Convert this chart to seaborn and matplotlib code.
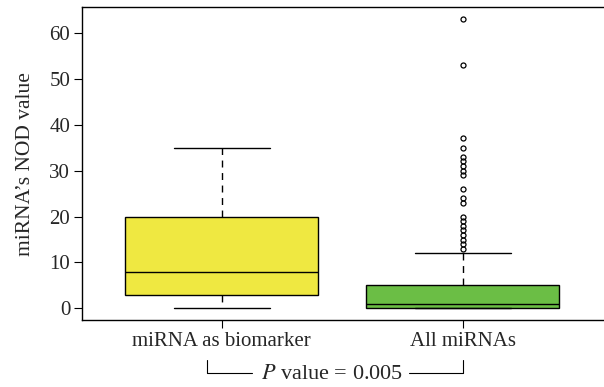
import numpy as np
import pandas as pd
import seaborn as sns
import matplotlib
matplotlib.use("Agg")
import matplotlib.pyplot as plt
from matplotlib.transforms import blended_transform_factory

# ---- data ----
categories = ["miRNA as biomarker", "All miRNAs"]
biomarker_values = [0, 3, 3, 5, 8, 10, 20, 20, 35]
all_core_values = [0, 1, 2, 3, 4, 5, 6, 7, 8, 9, 10, 11, 12]
all_core_counts = [70, 50, 15, 12, 10, 15, 7, 6, 5, 4, 3, 2, 2]
all_outliers = [13, 14, 15, 16, 17, 18, 19, 20, 23, 24, 26, 29, 30, 31, 32, 33, 35, 37, 53, 63]
y_ticks = [0, 10, 20, 30, 40, 50, 60]
y_label = "miRNA\u2019s NOD value"
p_text = r"$P$ value = 0.005"
colors = ["#EFE841", "#6BBE45"]

all_values = list(np.repeat(all_core_values, all_core_counts)) + all_outliers
df = pd.DataFrame({
    "group": [categories[0]] * len(biomarker_values) + [categories[1]] * len(all_values),
    "value": biomarker_values + all_values,
})

sns.set_style("white")
plt.rcParams["font.family"] = ["Liberation Serif", "DejaVu Serif"]
plt.rcParams["mathtext.fontset"] = "stix"

fig = plt.figure(figsize=(6.04, 3.87), dpi=100)
ax = fig.add_axes([82 / 604, 1 - 320 / 387, (602.6 - 82) / 604, (320 - 7.5) / 387])

sns.boxplot(
    data=df, x="group", y="value", hue="group", order=categories,
    hue_order=categories, palette=colors, legend=False, saturation=1,
    width=0.8, linecolor="black", linewidth=1.0, ax=ax,
    whiskerprops={"linestyle": (0, (5, 4))},
    flierprops={"marker": "o", "markerfacecolor": "none",
                "markeredgecolor": "black", "markersize": 3.6,
                "markeredgewidth": 0.9},
)

ax.set_xlim(-0.58, 1.58)
ax.set_ylim(-2.52, 65.52)
ax.set_yticks(y_ticks)
ax.set_yticklabels([str(t) for t in y_ticks])
ax.set_xlabel("")
ax.set_ylabel(y_label, fontsize=15.5, labelpad=10)
ax.tick_params(axis="both", which="both", direction="out", length=5.5,
               width=0.8, color="black", labelsize=15, pad=3, left=True, bottom=True)
ax.tick_params(axis="y", pad=3)
for name, sp in ax.spines.items():
    sp.set_color("black")
    sp.set_linewidth(1.0)
ax.spines["right"].set_visible(False)

# p-value bracket below the axis
tr = blended_transform_factory(ax.transData, ax.transAxes)
y_top, y_bot = -0.128, -0.170
xl, xr = -0.062, 1.0
ax.plot([xl, xl, 0.124], [y_top, y_bot, y_bot], color="black", lw=0.8,
        transform=tr, clip_on=False)
ax.plot([0.775, xr, xr], [y_bot, y_bot, y_top], color="black", lw=0.8,
        transform=tr, clip_on=False)
ax.text(0.456, y_bot - 0.004, p_text, transform=tr, ha="center", va="center",
        fontsize=16)

fig.savefig("out.png", dpi=100)
